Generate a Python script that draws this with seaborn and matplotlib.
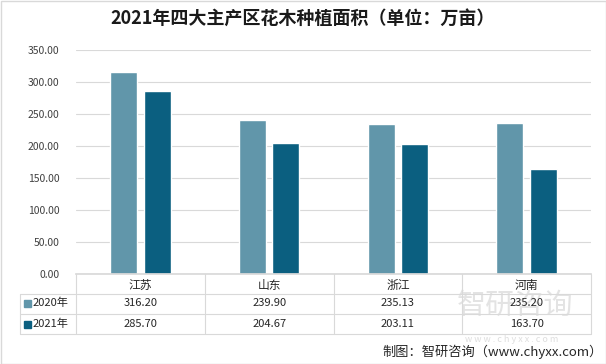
import pandas as pd
import matplotlib.pyplot as plt
import matplotlib.transforms as mtransforms
import seaborn as sns

# 数据
provinces = ["江苏", "山东", "浙江", "河南"]
years = ["2020年", "2021年"]
area_2020 = [316.20, 239.90, 235.13, 235.20]
area_2021 = [285.70, 204.67, 203.11, 163.70]
y_ticks = [0, 50, 100, 150, 200, 250, 300, 350]

colors = ["#6196aa", "#0b5f80"]
grid_color = "#d9d9d9"

W, H = 606, 364


def fy(y):
    # 像素 y -> 图形坐标
    return 1 - y / H


def main():
    df = pd.DataFrame({
        "省份": provinces * 2,
        "年份": [years[0]] * 4 + [years[1]] * 4,
        "面积": area_2020 + area_2021,
    })

    sns.set_theme(style="white")
    plt.rcParams["font.family"] = ["Noto Sans CJK SC", "DejaVu Sans"]

    fig = plt.figure(figsize=(W / 100, H / 100), dpi=100)
    ax = fig.add_axes([76 / W, fy(274), (591 - 76) / W, (274 - 50) / H])

    sns.barplot(data=df, x="省份", y="面积", hue="年份", palette=colors,
                width=0.52, gap=0.2, saturation=1, legend=False, ax=ax)

    ax.set_xlim(-0.5, 3.5)
    ax.set_ylim(0, 350)
    ax.set_yticks(y_ticks)
    ax.set_yticklabels([f"{v:.2f}" for v in y_ticks], fontsize=7.5, color="#404040")
    ax.set_xticks([])
    ax.set_xlabel("")
    ax.set_ylabel("")
    ax.tick_params(axis="y", length=0, pad=12)
    ax.yaxis.grid(True, color=grid_color, linewidth=0.8)
    ax.set_axisbelow(True)
    for s in ["top", "right", "left"]:
        ax.spines[s].set_visible(False)
    ax.spines["bottom"].set_color(grid_color)

    # 标题
    fig.text(0.5, fy(18), "2021年四大主产区花木种植面积（单位：万亩）",
             ha="center", va="center", fontsize=13, fontweight="bold", color="#1a1a1a")

    # 数据表
    tr = mtransforms.blended_transform_factory(ax.transData, fig.transFigure)
    ft = fig.transFigure
    left_x = 20 / W
    x0 = -0.5
    for yy in [294, 314, 334]:
        fig.add_artist(plt.Line2D([left_x, 591 / W], [fy(yy), fy(yy)],
                                  transform=ft, color=grid_color, lw=0.8))
    fig.add_artist(plt.Line2D([left_x, left_x], [fy(294), fy(334)],
                              transform=ft, color=grid_color, lw=0.8))
    for i in range(len(provinces) + 1):
        xb = x0 + i
        fig.add_artist(plt.Line2D([xb, xb], [fy(274), fy(334)],
                                  transform=tr, color=grid_color, lw=0.8))

    for i, p in enumerate(provinces):
        fig.text(i, fy(285), p, transform=tr, ha="center", va="center",
                 fontsize=8.5, color="#262626")
        fig.text(i, fy(303), f"{area_2020[i]:.2f}", transform=tr, ha="center",
                 va="center", fontsize=8, color="#262626", zorder=3)
        fig.text(i, fy(324), f"{area_2021[i]:.2f}", transform=tr, ha="center",
                 va="center", fontsize=8, color="#262626", zorder=3)

    for j, (yr, c) in enumerate(zip(years, colors)):
        yc = fy(303 + j * 21)
        fig.add_artist(plt.Rectangle((24 / W, yc - 3.5 / H), 7 / W, 7 / H,
                                     transform=ft, color=c))
        fig.text(33 / W, yc, yr, ha="left", va="center", fontsize=8, color="#262626")

    # 水印（与原图一样半透明叠在表格上）
    fig.text(515 / W, fy(306), "智研咨询", ha="center", va="center",
             fontsize=21, color="#c8c8c8", alpha=0.5, zorder=1)
    fig.text(512 / W, fy(339), "w w w . c h y x x . c o m", ha="center", va="center",
             fontsize=6.5, color="#c8c8c8", alpha=0.6, zorder=1)

    # 来源
    fig.text(603 / W, fy(352), "制图：智研咨询（www.chyxx.com）", ha="right",
             va="center", fontsize=9.5, color="#262626")

    # 外框
    fig.add_artist(plt.Rectangle((0.5 / W, 0.5 / H), (W - 1) / W, (H - 1) / H,
                                 transform=ft, fill=False, edgecolor="#d9d9d9", lw=1))

    fig.savefig("out.png", dpi=100)
    plt.close(fig)


if __name__ == "__main__":
    main()
